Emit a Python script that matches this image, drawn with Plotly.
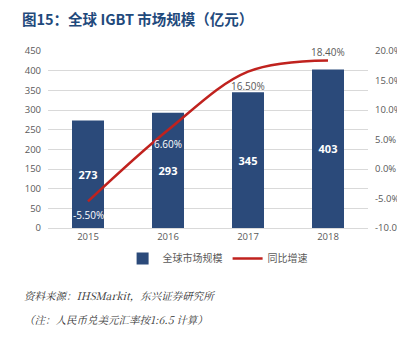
import plotly.graph_objects as go

years = ["2015", "2016", "2017", "2018"]
market = [273, 293, 345, 403]
growth = [-5.5, 6.6, 16.5, 18.4]
growth_labels = ["-5.50%", "6.60%", "16.50%", "18.40%"]
growth_label_shift = [-14, -14, -14, 8]
growth_label_color = ["white", "white", "#595959", "#595959"]
left_ticks = [0, 50, 100, 150, 200, 250, 300, 350, 400, 450]
right_ticks = [-10, -5, 0, 5, 10, 15, 20]
right_labels = ["-10.0%", "-5.0%", "0.0%", "5.0%", "10.0%", "15.0%", "20.0%"]

font_main = "Noto Sans CJK SC, Noto Sans, sans-serif"
tick_font = dict(family="Open Sans, Noto Sans, sans-serif", size=9.5, color="#595959")

L, R, T, B = 48, 29, 51, 112
PW, PH = 397 - L - R, 340 - T - B

fig = go.Figure()
fig.add_trace(go.Bar(
    x=years, y=market, name="全球市场规模",
    marker=dict(color="#2B4A7A", line=dict(width=0)),
    text=[str(v) for v in market], textposition="inside", insidetextanchor="middle",
    textfont=dict(color="white", size=11, family="Open Sans, sans-serif", weight="bold"),
    cliponaxis=False,
))
fig.add_trace(go.Scatter(
    x=years, y=growth, name="同比增速", yaxis="y2", mode="lines",
    line=dict(color="#C0221E", width=2.5, shape="spline", smoothing=1.0),
    cliponaxis=False,
))

annotations = [
    dict(text=lab, x=i, y=yv, xref="x", yref="y2", yshift=sh, showarrow=False,
         xanchor="center", yanchor="middle",
         font=dict(color=col, size=10, family="Open Sans, sans-serif"))
    for i, (yv, lab, sh, col) in enumerate(zip(growth, growth_labels, growth_label_shift, growth_label_color))
]
annotations += [
    dict(text="<b>图15：全球 IGBT 市场规模（亿元）</b>", xref="paper", yref="paper",
         x=(20 - L) / PW, y=1 + 33 / PH, xanchor="left", yanchor="middle", showarrow=False,
         font=dict(family=font_main, size=14.5, color="#1F4A7C")),
    dict(text="资料来源：IHSMarkit，东兴证券研究所", xref="paper", yref="paper",
         x=(22 - L) / PW, y=-67 / PH, xanchor="left", yanchor="middle", showarrow=False,
         font=dict(family="Noto Serif CJK SC, Noto Sans CJK SC, serif", size=10.5,
                   color="#333333", style="italic")),
    dict(text="（注：人民币兑美元汇率按1:6.5 计算）", xref="paper", yref="paper",
         x=(22 - L) / PW, y=-91 / PH, xanchor="left", yanchor="middle", showarrow=False,
         font=dict(family="Noto Serif CJK SC, Noto Sans CJK SC, serif", size=10.5,
                   color="#333333", style="italic")),
]

fig.update_layout(
    width=397, height=340,
    margin=dict(l=L, r=R, t=T, b=B, autoexpand=False),
    paper_bgcolor="white", plot_bgcolor="white",
    bargap=0.6,
    showlegend=True,
    legend=dict(orientation="h", x=0.53, xanchor="center", y=-0.09, yanchor="top",
                font=dict(family=font_main, size=10, color="#595959"),
                itemwidth=30, tracegroupgap=0),
    xaxis=dict(type="category", showgrid=False, showline=True, linecolor="#D9D9D9",
               linewidth=1, tickfont=tick_font, ticks="", automargin=False),
    yaxis=dict(range=[0, 450], tickvals=left_ticks, showgrid=True, gridcolor="#D9D9D9",
               gridwidth=1, zeroline=False, tickfont=tick_font, ticks="",
               ticklabelstandoff=6, showline=False, automargin=False),
    yaxis2=dict(range=[-10, 20], tickvals=right_ticks, ticktext=right_labels,
                overlaying="y", side="right", showgrid=False, zeroline=False,
                tickfont=tick_font, ticks="", ticklabelstandoff=6, showline=False,
                automargin=False),
    annotations=annotations,
)

fig.write_html("out.html")
